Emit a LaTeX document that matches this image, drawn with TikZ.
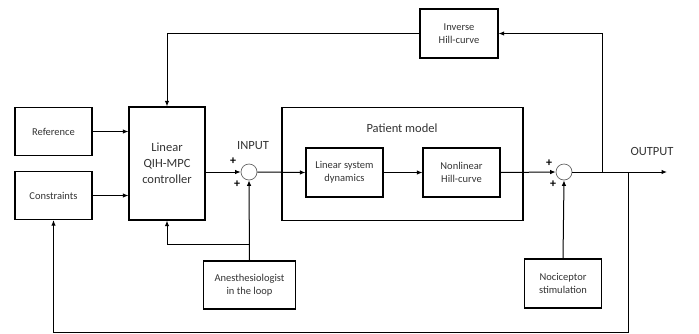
\documentclass[tikz,border=0pt]{standalone}
\usepackage{fontspec}
\setmainfont{Carlito}
\usetikzlibrary{arrows.meta}

\begin{document}
\begin{tikzpicture}[
    x=1pt, y=-1pt,
    arrow/.style={-{Latex[length=5.5pt,width=4.5pt]}, line width=1pt},
    block/.style={draw, line width=1.2pt, align=center, font=\fontsize{10.5}{13}\selectfont, text=black!80, inner sep=0pt},
    sum/.style={draw=black!60, line width=0.7pt, circle, fill=white, minimum size=16pt, inner sep=0pt},
    lbl/.style={font=\fontsize{12.5}{14}\selectfont, text=black!80},
    sign/.style={font=\bfseries\fontsize{12}{12}\selectfont, inner sep=0pt},
    ]
        \useasboundingbox (0, 0) rectangle (699, 333);

        \node[block, minimum width=77pt, minimum height=48pt] (ref) at (53.5, 131.5) {Reference};
        \node[block, minimum width=77pt, minimum height=48pt] (cons) at (53.5, 195.5) {Constraints};
        \node[block, minimum width=76pt, minimum height=113pt, font=\fontsize{12.5}{16}\selectfont] (ctrl) at (167, 163.5) {Linear\\QIH-MPC\\controller};
        \node[block, minimum width=78pt, minimum height=49pt] (inv) at (459, 33.5) {Inverse\\Hill-curve};
        \node[block, minimum width=241pt, minimum height=113pt] (patient) at (402.5, 164) {};
        \node[lbl] (patientlbl) at (402, 128) {Patient model};
        \node[block, minimum width=77pt, minimum height=49pt] (lin) at (344.5, 172.5) {Linear system\\dynamics};
        \node[block, minimum width=77pt, minimum height=49pt] (hill) at (461.5, 172.5) {Nonlinear\\Hill-curve};
        \node[block, minimum width=92pt, minimum height=48pt] (anes) at (249.5, 285) {Anesthesiologist\\in the loop};
        \node[block, minimum width=77pt, minimum height=49pt] (noci) at (563, 283.5) {Nociceptor\\stimulation};

        \node[sum] (sum1) at (249, 172) {};
        \node[sum] (sum2) at (564, 172) {};

        \node[lbl] (input) at (253, 146) {INPUT};
        \node[lbl] (output) at (652, 151) {OUTPUT};
        \node[sign] (p1a) at (233, 161) {+};
        \node[sign] (p1b) at (237, 184) {+};
        \node[sign] (p2a) at (549, 163) {+};
        \node[sign] (p2b) at (553, 184) {+};

        \coordinate (out) at (667, 172);
        \coordinate (fbinv) at (602, 172);
        \coordinate (fbcons) at (628, 172);
        \coordinate (anesbr) at (249.5, 244);

        \draw[arrow] (ref) -- (ref -| ctrl.west);
        \draw[arrow] (cons) -- (cons -| ctrl.west);
        \draw[arrow] (sum1 -| ctrl.east) -- (sum1.west);
        \draw[arrow] (sum1.east) -- (lin.west);
        \draw[arrow] (lin) -- (hill);
        \draw[arrow] (hill.east) -- (sum2.west);
        \draw[arrow] (sum2.east) -- (out);
        \draw[arrow] (fbinv) |- (inv.east);
        \draw[arrow] (inv.west) -| (ctrl.north);
        \draw[arrow] (fbcons) -- ++(0, 160) -| (cons.south);
        \draw[arrow] (noci.north) -- (sum2.south);
        \draw[arrow] (anes.north) -- (sum1.south);
        \draw[arrow] (anesbr) -| (ctrl.south);
    \end{tikzpicture}
\end{document}
